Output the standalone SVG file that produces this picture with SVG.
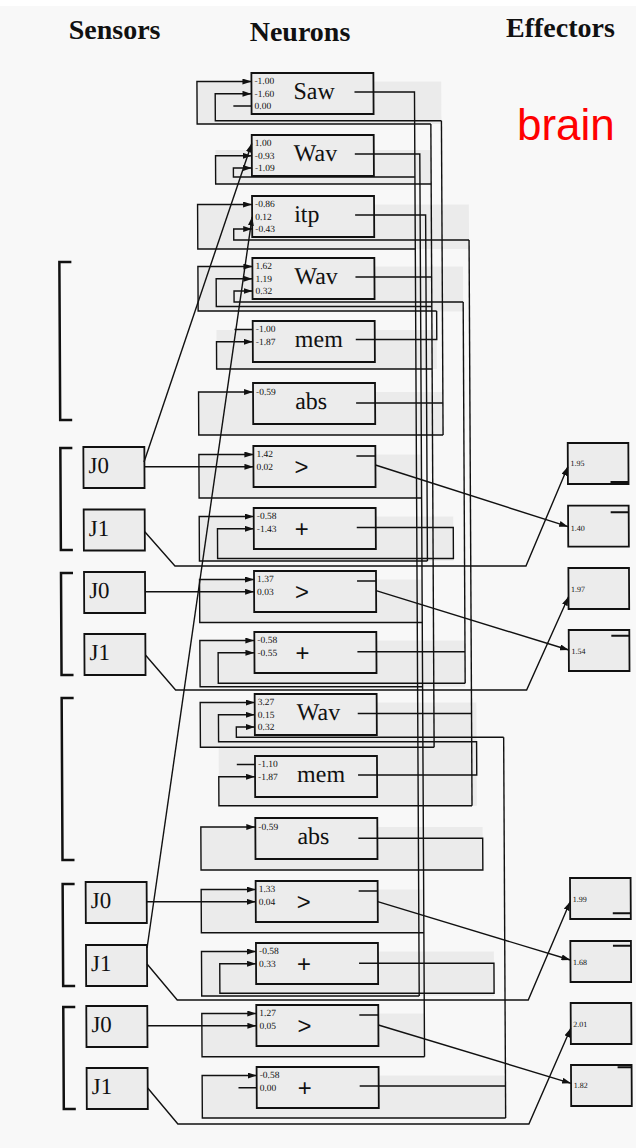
<svg xmlns="http://www.w3.org/2000/svg" width="644" height="1148" viewBox="0 0 644 1148">
<defs>
<marker id="ah" markerWidth="9" markerHeight="6" refX="9" refY="3" orient="auto" markerUnits="userSpaceOnUse"><path d="M0,0 L9,3 L0,6 z" fill="#111"/></marker>
<style>
.w{fill:none;stroke:#111;stroke-width:1.4}
.a{marker-end:url(#ah)}
.box{fill:#ececec;stroke:#111;stroke-width:1.8}
.reg{fill:#ebebeb}
.v{font-family:"Liberation Serif",serif;font-size:9.5px;fill:#111}
.lbl{font-family:"Liberation Serif",serif;font-size:24px;fill:#111}
.op{font-family:"Liberation Sans",sans-serif;font-size:24px;fill:#111;text-anchor:middle}
.hd{font-family:"Liberation Serif",serif;font-weight:bold;font-size:28px;fill:#111}
.j{font-family:"Liberation Serif",serif;font-size:23px;fill:#111}
.ev{font-family:"Liberation Serif",serif;font-size:8px;fill:#111}
.br{fill:none;stroke:#111;stroke-width:2.5}
.ind{stroke:#111;stroke-width:2}
</style>
</defs>
<rect x="0" y="0" width="644" height="1148" fill="#ffffff"/>
<rect x="0" y="6" width="636" height="1142" fill="#f8f8f8"/>
<g id="headers">
<text class="hd" x="68.7" y="39">Sensors</text>
<text class="hd" x="249.7" y="41">Neurons</text>
<text class="hd" x="506" y="37">Effectors</text>
<text x="517" y="140" font-family="Liberation Sans, Arial, sans-serif" font-size="44" fill="#ff0000">brain</text>
</g>
<g transform="skewX(0.3)">
<g id="regions">
<rect class="reg" x="196.5" y="81.5" width="244.3" height="42.5"/>
<rect class="reg" x="214.7" y="150" width="215.5" height="34"/>
<rect class="reg" x="196.5" y="204.5" width="271.3" height="44.5"/>
<rect class="reg" x="196.5" y="266.5" width="265.1" height="45"/>
<rect class="reg" x="214.7" y="330" width="220.3" height="39"/>
<rect class="reg" x="196.5" y="392" width="244.3" height="43"/>
<rect class="reg" x="196.5" y="454.5" width="222.5" height="43.5"/>
<rect class="reg" x="196.5" y="516.5" width="254" height="44.5"/>
<rect class="reg" x="196.5" y="579.5" width="222.5" height="43"/>
<rect class="reg" x="196.5" y="640.5" width="265.1" height="46.2"/>
<rect class="reg" x="196.5" y="702.5" width="276.2" height="44.8"/>
<rect class="reg" x="214.7" y="741" width="258" height="64.7"/>
<rect class="reg" x="196.5" y="827" width="281.8" height="43"/>
<rect class="reg" x="196.5" y="889.5" width="222.5" height="43.2"/>
<rect class="reg" x="196.5" y="951.5" width="292.4" height="44.5"/>
<rect class="reg" x="196.5" y="1013.5" width="222.5" height="43.2"/>
<rect class="reg" x="196.5" y="1075.5" width="303.3" height="42.5"/>
</g>
<g id="n0"><rect class="box" x="251" y="73" width="122" height="41"/><text class="v" x="254" y="84.5">-1.00</text><text class="v" x="254" y="96.8">-1.60</text><text class="v" x="254" y="109">0.00</text><text class="lbl" x="293" y="99">Saw</text></g>
<g id="n1"><rect class="box" x="251" y="135" width="122" height="41"/><text class="v" x="254" y="146.5">1.00</text><text class="v" x="254" y="158.8">-0.93</text><text class="v" x="254" y="171">-1.09</text><text class="lbl" x="293" y="161">Wav</text></g>
<g id="n2"><rect class="box" x="251" y="196" width="122" height="41"/><text class="v" x="254" y="207.5">-0.86</text><text class="v" x="254" y="219.8">0.12</text><text class="v" x="254" y="232">-0.43</text><text class="lbl" x="293" y="222">itp</text></g>
<g id="n3"><rect class="box" x="251" y="258" width="122" height="41"/><text class="v" x="254" y="269.5">1.62</text><text class="v" x="254" y="281.8">1.19</text><text class="v" x="254" y="294">0.32</text><text class="lbl" x="293" y="284">Wav</text></g>
<g id="n4"><rect class="box" x="251" y="321" width="122" height="41"/><text class="v" x="254" y="332.5">-1.00</text><text class="v" x="254" y="344.8">-1.87</text><text class="lbl" x="293" y="347">mem</text></g>
<g id="n5"><rect class="box" x="251" y="383" width="122" height="41"/><text class="v" x="254" y="395">-0.59</text><text class="lbl" x="293" y="409">abs</text></g>
<g id="n6"><rect class="box" x="251" y="446" width="122" height="41"/><text class="v" x="254" y="457.5">1.42</text><text class="v" x="254" y="469.8">0.02</text><text class="op" x="299" y="475">&gt;</text></g>
<g id="n7"><rect class="box" x="251" y="508" width="122" height="41"/><text class="v" x="254" y="519.5">-0.58</text><text class="v" x="254" y="531.8">-1.43</text><text class="op" x="299" y="537">+</text></g>
<g id="n8"><rect class="box" x="251" y="571" width="122" height="41"/><text class="v" x="254" y="582.5">1.37</text><text class="v" x="254" y="594.8">0.03</text><text class="op" x="299" y="600">&gt;</text></g>
<g id="n9"><rect class="box" x="251" y="632" width="122" height="41"/><text class="v" x="254" y="643.5">-0.58</text><text class="v" x="254" y="655.8">-0.55</text><text class="op" x="299" y="661">+</text></g>
<g id="n10"><rect class="box" x="251" y="694" width="122" height="41"/><text class="v" x="254" y="705.5">3.27</text><text class="v" x="254" y="717.8">0.15</text><text class="v" x="254" y="730">0.32</text><text class="lbl" x="293" y="720">Wav</text></g>
<g id="n11"><rect class="box" x="251" y="756" width="122" height="41"/><text class="v" x="254" y="767.5">-1.10</text><text class="v" x="254" y="779.8">-1.87</text><text class="lbl" x="293" y="782">mem</text></g>
<g id="n12"><rect class="box" x="251" y="818" width="122" height="41"/><text class="v" x="254" y="830">-0.59</text><text class="lbl" x="293" y="844">abs</text></g>
<g id="n13"><rect class="box" x="251" y="881" width="122" height="41"/><text class="v" x="254" y="892.5">1.33</text><text class="v" x="254" y="904.8">0.04</text><text class="op" x="299" y="910">&gt;</text></g>
<g id="n14"><rect class="box" x="251" y="943" width="122" height="41"/><text class="v" x="254" y="954.5">-0.58</text><text class="v" x="254" y="966.8">0.33</text><text class="op" x="299" y="972">+</text></g>
<g id="n15"><rect class="box" x="251" y="1005" width="122" height="41"/><text class="v" x="254" y="1016.5">1.27</text><text class="v" x="254" y="1028.8">0.05</text><text class="op" x="299" y="1034">&gt;</text></g>
<g id="n16"><rect class="box" x="251" y="1067" width="122" height="41"/><text class="v" x="254" y="1078.5">-0.58</text><text class="v" x="254" y="1090.8">0.00</text><text class="op" x="299" y="1096">+</text></g>
<g id="s0"><rect class="box" x="81" y="447" width="61" height="41"/><text class="j" x="86" y="473.5">J0</text></g>
<g id="s1"><rect class="box" x="81" y="509.5" width="61" height="41"/><text class="j" x="86" y="536">J1</text></g>
<g id="s2"><rect class="box" x="81" y="572" width="61" height="41"/><text class="j" x="86" y="598.5">J0</text></g>
<g id="s3"><rect class="box" x="81" y="634" width="61" height="41"/><text class="j" x="86" y="660.5">J1</text></g>
<g id="s4"><rect class="box" x="81" y="882" width="61" height="41"/><text class="j" x="86" y="908.5">J0</text></g>
<g id="s5"><rect class="box" x="81" y="945" width="61" height="41"/><text class="j" x="86" y="971.5">J1</text></g>
<g id="s6"><rect class="box" x="81" y="1006" width="61" height="41"/><text class="j" x="86" y="1032.5">J0</text></g>
<g id="s7"><rect class="box" x="81" y="1068" width="61" height="41"/><text class="j" x="86" y="1094.5">J1</text></g>
<g id="e0"><rect class="box" x="565.4" y="443" width="60.6" height="41"/><text class="ev" x="568" y="466.3">1.95</text><line class="ind" x1="608" y1="482" x2="626" y2="482"/></g>
<g id="e1"><rect class="box" x="565.4" y="505.7" width="60.6" height="41"/><text class="ev" x="568" y="531.3">1.40</text><line class="ind" x1="608" y1="512.3" x2="626" y2="512.3"/></g>
<g id="e2"><rect class="box" x="565.4" y="568" width="60.6" height="41"/><text class="ev" x="568" y="592.3">1.97</text></g>
<g id="e3"><rect class="box" x="565.4" y="630" width="60.6" height="41"/><text class="ev" x="568" y="654">1.54</text><line class="ind" x1="608" y1="635.7" x2="626" y2="635.7"/></g>
<g id="e4"><rect class="box" x="565.4" y="878" width="60.6" height="41"/><text class="ev" x="568" y="902.3">1.99</text><line class="ind" x1="608" y1="913.3" x2="626" y2="913.3"/></g>
<g id="e5"><rect class="box" x="565.4" y="941" width="60.6" height="41"/><text class="ev" x="568" y="964.7">1.68</text><line class="ind" x1="608" y1="945.7" x2="626" y2="945.7"/></g>
<g id="e6"><rect class="box" x="565.4" y="1003" width="60.6" height="41"/><text class="ev" x="568" y="1027">2.01</text></g>
<g id="e7"><rect class="box" x="565.4" y="1065" width="60.6" height="41"/><text class="ev" x="568" y="1088">1.82</text><line class="ind" x1="612" y1="1067.3" x2="626" y2="1067.3"/></g>
<g id="brackets">
<path class="br" d="M70,262 H58 V420 H70"/>
<path class="br" d="M70,448 H58 V550 H70"/>
<path class="br" d="M70,573 H58 V675 H70"/>
<path class="br" d="M70,698 H58 V860 H70"/>
<path class="br" d="M70,884 H58 V986 H70"/>
<path class="br" d="M70,1007 H58 V1109 H70"/>
</g>
<g id="connectors">
<path class="w" d="M354,92 H414 V996"/>
<path class="w" d="M354,154 H419 V1056.7"/>
<path class="w" d="M354,215 H424.5 V561"/>
<path class="w" d="M354,277 H430.2"/>
<path class="w" d="M430.2,124 V747.3"/>
<path class="w" d="M354,339.5 H435 V311"/>
<path class="w" d="M354,403 H440.8"/>
<path class="w" d="M440.8,120.7 V435"/>
<path class="w" d="M354,651.7 H461.6"/>
<path class="w" d="M461.6,302 V683.3"/>
<path class="w" d="M354,713.5 H467.8"/>
<path class="w" d="M467.8,240 V805.7"/>
<path class="w" d="M354,1086 H499.8"/>
<path class="w" d="M499.8,737.3 V1118"/>
<path class="w a" d="M354,527.5 H450.5 V558.5 H214.7 V528.8 H251"/>
<path class="w a" d="M354,775 H472.7 V741.7 H214.7 V714.8 H251"/>
<path class="w a" d="M354,838.3 H478.3 V870 H196.5 V827 H251"/>
<path class="w a" d="M354,963.3 H488.9 V993.3 H214.7 V963.8 H251"/>
<path class="w" d="M354,456 H373 M354,581 H373 M354,891 H373 M354,1015 H373"/>
<path class="w a" d="M430.2,124 H196.5 V81.5 H251"/>
<path class="w a" d="M440.8,120.7 H214.7 V93.8 H251"/>
<path class="w" d="M232.8,106 H251"/>
<path class="w a" d="M141.6,462 L251,143.5"/>
<path class="w a" d="M430.2,184 H214.7 V155.8 H251"/>
<path class="w a" d="M414,177 H232.5 V168 H251"/>
<path class="w a" d="M414,249 H196.5 V204.5 H251"/>
<path class="w a" d="M142.1,948 L251,216.8"/>
<path class="w a" d="M467.8,240 H232.5 V229 H251"/>
<path class="w a" d="M435,311 H196.5 V266.5 H251"/>
<path class="w a" d="M430.2,306.5 H214.7 V278.8 H251"/>
<path class="w a" d="M461.6,302 H232.5 V291 H251"/>
<path class="w" d="M232.8,329.5 H251"/>
<path class="w a" d="M430.2,369 H214.7 V341.8 H251"/>
<path class="w a" d="M440.8,435 H196.5 V392 H251"/>
<path class="w a" d="M419,498 H196.5 V454.5 H251"/>
<path class="w a" d="M142,466.8 H251"/>
<path class="w a" d="M424.5,561 H196.5 V516.5 H251"/>
<path class="w a" d="M419,622.5 H196.5 V579.5 H251"/>
<path class="w a" d="M142,591.8 H251"/>
<path class="w a" d="M419,686.7 H196.5 V640.5 H251"/>
<path class="w a" d="M461.6,683.3 H214.7 V652.8 H251"/>
<path class="w a" d="M430.2,747.3 H196.5 V702.5 H251"/>
<path class="w a" d="M499.8,737.3 H232.5 V727 H251"/>
<path class="w" d="M232.8,764.5 H251"/>
<path class="w a" d="M467.8,805.7 H214.7 V776.8 H251"/>
<path class="w a" d="M419,932.7 H196.5 V889.5 H251"/>
<path class="w a" d="M142,901.8 H251"/>
<path class="w a" d="M414,996 H196.5 V951.5 H251"/>
<path class="w a" d="M419,1056.7 H196.5 V1013.5 H251"/>
<path class="w a" d="M142,1025.8 H251"/>
<path class="w a" d="M499.8,1118 H196.5 V1075.5 H251"/>
<path class="w" d="M232.8,1087.8 H251"/>
<path class="w a" d="M142,531.7 L172,566 H523 L565.4,466.7"/>
<path class="w a" d="M142,655 L172,690 H523 L565.4,596.7"/>
<path class="w a" d="M142,964 L172,1000 H523 L565.4,901.7"/>
<path class="w a" d="M142,1088 L172,1124 H523 L565.4,1028.3"/>
<path class="w a" d="M373,465 L565.4,526.7"/>
<path class="w a" d="M373,590.7 L565.4,650"/>
<path class="w a" d="M373,901.7 L565.4,960"/>
<path class="w a" d="M373,1025 L565.4,1083.3"/>
</g>
</g>
</svg>
